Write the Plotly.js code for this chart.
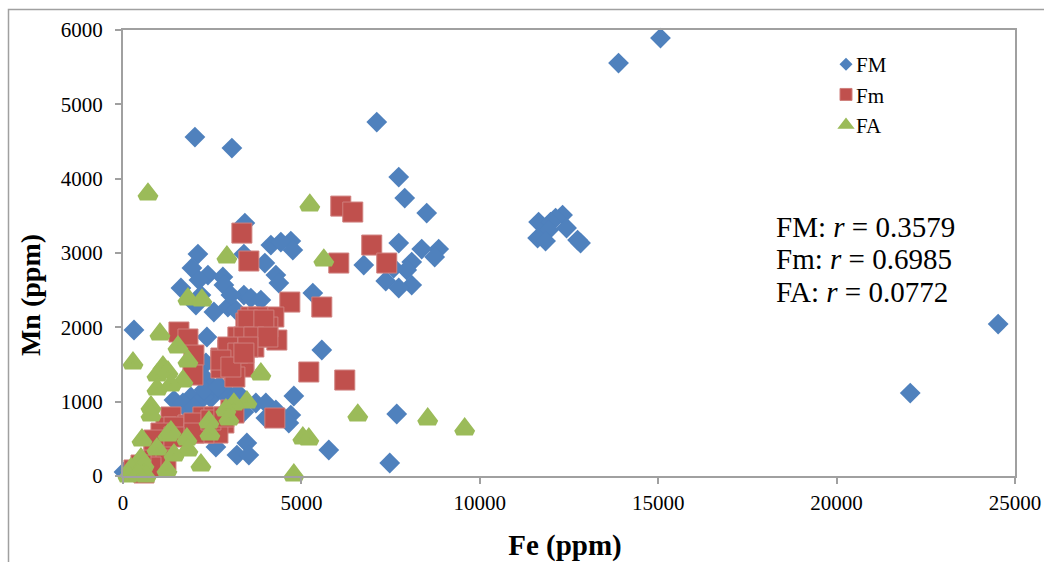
<!DOCTYPE html>
<html><head><meta charset="utf-8">
<script src="https://cdn.plot.ly/plotly-3.0.1.min.js"></script>
<style>html,body{margin:0;padding:0;background:#fff}#c{width:1044px;height:562px}</style>
</head><body><div id="c"></div>
<script>
var fmFe=[15064,13888,2016,3052,7112,7728,7896,8512,3416,11648,12320,12124,11984,12432,11928,11620,11844,12824,12740,8848,8372,8736,7728,6748,8092,7588,7952,7364,8092,7728,4704,4144,4424,4760,3388,2100,1932,2380,2128,3976,4284,4368,5320,1624,2800,2828,2184,2044,2548,2940,3164,3388,3584,3864,3024,308,2352,5572,4788,2324,2324,2548,2744,2184,1904,1428,1764,2464,2940,3108,3724,4004,4284,4004,4704,4648,5768,2604,3472,3192,3528,28,7476,7672,22064,24528,2268,2464,1680,1988,2268,2828,3220,2268,2660,3388];
var fmMn=[5891,5555,4560,4412,4761,4022,3739,3537,3403,3416,3510,3470,3416,3336,3309,3201,3161,3134,3174,3053,3053,2946,3134,2838,2878,2798,2771,2623,2569,2529,3161,3107,3147,3040,2986,2986,2798,2703,2636,2865,2703,2596,2461,2529,2677,2569,2434,2300,2206,2273,2233,2434,2394,2367,2434,1964,1870,1695,1076,1520,1291,1157,1197,1063,1063,1022,915,1049,1116,1063,982,982,888,780,820,713,350,390,444,282,282,54,175,834,1116,2044,1332,1197,982,928,1063,1116,1116,1157,1197,861];
var fmFe2=[3332,3528,6104,6440,6972,6048,7392,4676,5572,5208,6216,4256,1568,1820,1988,1960,3584,4228,3444,3220,3220,3864,4312,3668,4060,3584,3024,2744,3388,3108,2744,3388,3668,3136,2940,1344,1204,2240,2548,2240,1820,3024,2828,2660,2268,868,1064,1064,1204,588,784,504,308,3780,3500,3948,3388,3668,4060,2940,3220,3500,2744,3024,3388,1428,1988,1988,2464,2828,3108,1064,868,1428];
var fmMn2=[3268,2892,3631,3551,3107,2865,2865,2340,2273,1399,1291,780,1937,1843,1627,1358,2139,2139,2058,1735,1870,1870,1829,1964,2004,1829,1601,1587,1560,1426,1453,1466,1735,1332,1695,794,659,794,794,659,686,888,713,578,578,390,484,309,215,40,121,148,81,2139,2098,2098,1870,1870,1870,1735,1654,1735,1560,1466,1654,659,713,578,753,794,847,578,484,525];
var faFe=[700,5236,5628,2912,1820,2212,1036,280,1540,1820,3864,1120,952,1260,1680,952,1344,784,784,3472,3108,2884,2968,2408,2436,6580,5040,5208,532,1260,1344,1792,1820,952,1428,2184,1232,4788,504,224,588,140,644,420,8540,9576];
var faMn=[3793,3645,2905,2946,2381,2367,1910,1520,1735,1547,1372,1466,1358,1399,1278,1170,1224,928,820,995,968,888,767,726,565,820,511,498,484,551,592,498,350,363,282,148,81,13,229,94,148,0,0,13,767,632];
var seriesNames=['FM','Fm','FA'];
var xTicks=[0,5000,10000,15000,20000,25000];
var yTicks=[0,1000,2000,3000,4000,5000,6000];
var blue='#4F81BD',red='#C0504D',green='#9BBB59';
var font='"Liberation Serif","Times New Roman",serif';

function pts(x,y,name,marker){return {type:'scatter',mode:'markers',x:x,y:y,name:name,legendgroup:name,showlegend:false,cliponaxis:false,hoverinfo:'x+y+name',marker:marker};}
function key(name,marker){return {type:'scatter',mode:'markers',x:[null],y:[null],name:name,legendgroup:name,showlegend:true,marker:marker};}

var traces=[
 pts(fmFe,fmMn,seriesNames[0],{symbol:'diamond',size:16,color:blue}),
 pts(fmFe2,fmMn2,seriesNames[1],{symbol:'square',size:20,color:red,line:{color:'#CF7F7C',width:1}}),
 pts(faFe,faMn,seriesNames[2],{symbol:'triangle-up',size:14,color:green,line:{color:green,width:6}}),
 key(seriesNames[0],{symbol:'diamond',size:10,color:blue}),
 key(seriesNames[1],{symbol:'square',size:12,color:red,line:{color:'#CF7F7C',width:1}}),
 key(seriesNames[2],{symbol:'triangle-up',size:8,color:green,line:{color:green,width:4}})
];
var ann=[['FM: <i>r</i> = 0.3579',227],['Fm: <i>r</i> = 0.6985',259],['FA: <i>r</i> = 0.0772',292]].map(function(a){
 return {xref:'paper',yref:'paper',x:(775-123)/892,y:(476-a[1])/446,text:a[0],showarrow:false,xanchor:'left',yanchor:'middle',
  font:{family:font,size:29,color:'#000'},borderpad:0};
});
var layout={
 width:1044,height:562,margin:{l:123,r:29,t:30,b:86,pad:0},paper_bgcolor:'#fff',plot_bgcolor:'#fff',
 font:{family:font,color:'#000'},
 xaxis:{range:[0,25000],tickvals:xTicks,ticktext:xTicks.map(String),ticks:'outside',ticklen:6,tickwidth:1.5,tickcolor:'#a0a0a0',
  linecolor:'#a0a0a0',linewidth:2,mirror:true,showgrid:false,zeroline:false,ticklabelstandoff:1,tickfont:{family:font,size:21,color:'#000'},
  title:{text:'<b>Fe (ppm)</b>',standoff:21,font:{family:font,size:29,color:'#000'}}},
 yaxis:{range:[0,6000],tickvals:yTicks,ticktext:yTicks.map(String),ticks:'outside',ticklen:6,tickwidth:1.5,tickcolor:'#a0a0a0',
  linecolor:'#a0a0a0',linewidth:2,mirror:true,showgrid:false,zeroline:false,ticklabelstandoff:8,tickfont:{family:font,size:21,color:'#000'},
  title:{text:'<b>Mn (ppm)</b>',standoff:16,font:{family:font,size:28,color:'#000'}}},
 legend:{x:(816-123)/892,y:(476-44)/446,xanchor:'left',yanchor:'top',tracegroupgap:0,bgcolor:'rgba(0,0,0,0)',borderwidth:0,font:{family:font,size:21,color:'#000'},itemclick:false,itemdoubleclick:false},
 shapes:[{type:'rect',xref:'paper',yref:'paper',x0:(8.5-123)/892,x1:1.2,y0:-0.4,y1:(476-9.5)/446,line:{color:'#a0a0a0',width:1.5},layer:'below'}],
 annotations:ann
};
Plotly.newPlot('c',traces,layout,{displayModeBar:false,responsive:false}).then(function(gd){
 gd.querySelectorAll('.legend .traces .legendpoints').forEach(function(n){n.setAttribute('transform','translate(10,0)');});
 function shift(sel,dx,dy){var n=gd.querySelector(sel);if(!n)return;n.setAttribute('transform','translate('+dx+','+dy+') '+(n.getAttribute('transform')||''));}
 shift('.ytitle',4,42);
 shift('.xtitle',-4,0);
});
</script></body></html>
